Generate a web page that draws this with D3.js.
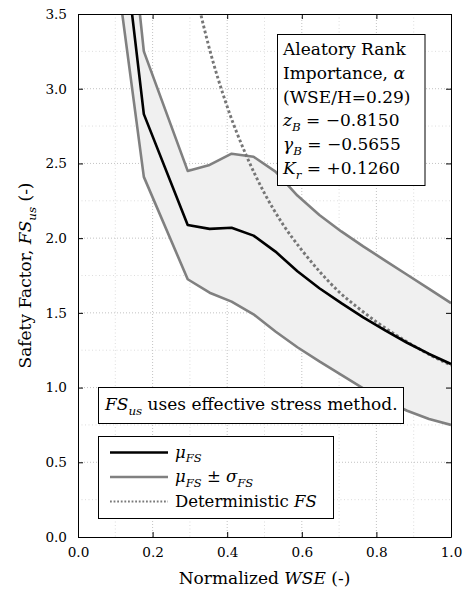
<!DOCTYPE html>
<html>
<head>
<meta charset="utf-8">
<script src="https://cdn.jsdelivr.net/npm/d3@7"></script>
<style>
  body { margin: 0; background: #fff; }
  svg { display: block; }
  text { font-family: "DejaVu Serif", "Liberation Serif", serif; white-space: pre; fill: #000; }
</style>
</head>
<body>
<svg id="chart" width="469" height="597"></svg>
<script>
// Normalized water surface elevation at which the factor of safety was evaluated
const wse = [0.1176, 0.1765, 0.2941, 0.3529, 0.4118, 0.4706, 0.5294, 0.5882,
             0.6471, 0.7059, 0.7647, 0.8235, 0.8824, 0.9412, 1.0];
// Mean factor of safety and the mean +/- one standard deviation bounds
const fsMean  = [4.08, 2.83, 2.088, 2.062, 2.07, 2.017, 1.91, 1.778,
                 1.665, 1.565, 1.47, 1.383, 1.30, 1.225, 1.158];
const fsUpper = [4.64, 3.25, 2.45, 2.49, 2.565, 2.545, 2.445, 2.285,
                 2.155, 2.045, 1.945, 1.85, 1.755, 1.66, 1.565];
const fsLower = [3.52, 2.41, 1.725, 1.635, 1.575, 1.49, 1.375, 1.27,
                 1.175, 1.085, 0.995, 0.915, 0.845, 0.79, 0.75];
// Deterministic factor of safety
const detWse = [0.30, 0.33, 0.35, 0.40, 0.45, 0.50, 0.55, 0.60, 0.65,
                0.70, 0.75, 0.80, 0.85, 0.90, 0.95, 1.0];
const detFs  = [3.83, 3.49, 3.29, 2.88, 2.56, 2.30, 2.09, 1.92, 1.77,
                1.64, 1.535, 1.44, 1.355, 1.28, 1.21, 1.15];

const xTicks = [0, 0.2, 0.4, 0.6, 0.8, 1.0];
const yTicks = [0, 0.5, 1.0, 1.5, 2.0, 2.5, 3.0, 3.5];
const xMinor = [0.1, 0.3, 0.5, 0.7, 0.9];
const yMinor = [0.25, 0.75, 1.25, 1.75, 2.25, 2.75, 3.25];

const infoLines = [
  [{t: "Aleatory Rank"}],
  [{t: "Importance, "}, {t: "α", it: 1}],
  [{t: "(WSE/H=0.29)"}],
  [{t: "z", it: 1}, {t: "B", it: 1, sub: 1}, {t: " = −0.8150"}],
  [{t: "γ", it: 1}, {t: "B", it: 1, sub: 1}, {t: " = −0.5655"}],
  [{t: "K", it: 1}, {t: "r", it: 1, sub: 1}, {t: " = +0.1260"}]
];
const noteText = [{t: "FS", it: 1}, {t: "us", it: 1, sub: 1}, {t: " uses effective stress method."}];
const legendItems = [
  {label: [{t: "μ", it: 1}, {t: "FS", it: 1, sub: 1}], color: "#000", dash: null, width: 2.6},
  {label: [{t: "μ", it: 1}, {t: "FS", it: 1, sub: 1}, {t: " ± "}, {t: "σ", it: 1}, {t: "FS", it: 1, sub: 1}],
   color: "#808080", dash: null, width: 2.6},
  {label: [{t: "Deterministic "}, {t: "FS", it: 1}], color: "#7a7a7a", dash: "1.8,1.8", width: 1.9}
];

const svg = d3.select("#chart");
const L = 78, R = 451, T = 14, B = 537;
const x = d3.scaleLinear().domain([0, 1]).range([L, R]);
const y = d3.scaleLinear().domain([0, 3.5]).range([B, T]);

// Write a run of roman / italic / subscript pieces into one text element
function mathText(g, px, py, parts, size) {
  const t = g.append("text").attr("x", px).attr("y", py).attr("font-size", size);
  let shift = 0;
  parts.forEach(p => {
    const target = p.sub ? size * 0.28 : 0;
    const ts = t.append("tspan").text(p.t)
      .attr("font-style", p.it ? "italic" : "normal")
      .attr("font-size", p.sub ? size * 0.7 : size);
    if (target !== shift) { ts.attr("dy", target - shift); shift = target; }
  });
  return t;
}

svg.append("defs").append("clipPath").attr("id", "plotClip")
  .append("rect").attr("x", L).attr("y", T).attr("width", R - L).attr("height", B - T);

// Grid lines: minor then major
const grid = svg.append("g");
grid.selectAll(".vmin").data(xMinor).join("line")
  .attr("x1", d => x(d)).attr("x2", d => x(d)).attr("y1", T).attr("y2", B)
  .attr("stroke", "#d4d4d4").attr("stroke-width", 0.8).attr("stroke-dasharray", "1,2.5");
grid.selectAll(".hmin").data(yMinor).join("line")
  .attr("y1", d => y(d)).attr("y2", d => y(d)).attr("x1", L).attr("x2", R)
  .attr("stroke", "#d4d4d4").attr("stroke-width", 0.8).attr("stroke-dasharray", "1,2.5");
grid.selectAll(".vmaj").data(xTicks.slice(1, -1)).join("line")
  .attr("x1", d => x(d)).attr("x2", d => x(d)).attr("y1", T).attr("y2", B)
  .attr("stroke", "#bcbcbc").attr("stroke-width", 0.9).attr("stroke-dasharray", "1,2");
grid.selectAll(".hmaj").data(yTicks.slice(1, -1)).join("line")
  .attr("y1", d => y(d)).attr("y2", d => y(d)).attr("x1", L).attr("x2", R)
  .attr("stroke", "#bcbcbc").attr("stroke-width", 0.9).attr("stroke-dasharray", "1,2");

// Data layer
const plot = svg.append("g").attr("clip-path", "url(#plotClip)");
const pts = wse.map((w, i) => ({w, m: fsMean[i], u: fsUpper[i], l: fsLower[i]}));

plot.append("path").datum(pts)
  .attr("d", d3.area().x(d => x(d.w)).y0(d => y(d.l)).y1(d => y(d.u)))
  .attr("fill", "#f0f0f0");

const lineOf = key => d3.line().x(d => x(d.w)).y(d => y(d[key]));
["u", "l"].forEach(k => {
  plot.append("path").datum(pts).attr("d", lineOf(k))
    .attr("fill", "none").attr("stroke", "#808080").attr("stroke-width", 2.6)
    .attr("stroke-linejoin", "round");
});

const detPts = detWse.map((w, i) => ({w, f: detFs[i]}));
plot.append("path").datum(detPts)
  .attr("d", d3.line().x(d => x(d.w)).y(d => y(d.f)).curve(d3.curveMonotoneX))
  .attr("fill", "none").attr("stroke", "#767676").attr("stroke-width", 2.9)
  .attr("stroke-dasharray", "2.8,2.4");

plot.append("path").datum(pts).attr("d", lineOf("m"))
  .attr("fill", "none").attr("stroke", "#000").attr("stroke-width", 2.6)
  .attr("stroke-linejoin", "round");

// Axes with inward ticks on all four sides
const fmt = d3.format(".1f");
const styleAxis = g => {
  g.selectAll(".domain").attr("stroke", "#000").attr("stroke-width", 1);
  g.selectAll(".tick line").attr("stroke", "#000").attr("stroke-width", 1);
  g.selectAll(".tick text").attr("font-family", "DejaVu Serif").attr("font-size", 13.6).attr("fill", "#000");
};
svg.append("g").attr("transform", `translate(0,${B})`)
  .call(d3.axisBottom(x).tickValues(xTicks).tickFormat(fmt).tickSizeInner(-5).tickSizeOuter(0).tickPadding(10))
  .call(styleAxis);
svg.append("g").attr("transform", `translate(${L},0)`)
  .call(d3.axisLeft(y).tickValues(yTicks).tickFormat(fmt).tickSizeInner(-5).tickSizeOuter(0).tickPadding(11))
  .call(styleAxis);
svg.append("g").attr("transform", `translate(0,${T})`)
  .call(d3.axisTop(x).tickValues(xTicks).tickFormat("").tickSizeInner(-5).tickSizeOuter(0))
  .call(styleAxis);
svg.append("g").attr("transform", `translate(${R},0)`)
  .call(d3.axisRight(y).tickValues(yTicks).tickFormat("").tickSizeInner(-5).tickSizeOuter(0))
  .call(styleAxis);

// Axis titles
mathText(svg, (L + R) / 2, 584, [{t: "Normalized "}, {t: "WSE", it: 1}, {t: " (-)"}], 17)
  .attr("text-anchor", "middle");
mathText(svg.append("g").attr("transform", `translate(31,${(T + B) / 2}) rotate(-90)`), 0, 0,
  [{t: "Safety Factor, "}, {t: "FS", it: 1}, {t: "us", it: 1, sub: 1}, {t: " (-)"}], 17)
  .attr("text-anchor", "middle");

// Rank importance box
const info = svg.append("g");
info.append("rect").attr("x", 277.5).attr("y", 34.5).attr("width", 147.5).attr("height", 151)
  .attr("fill", "#fff").attr("stroke", "#000").attr("stroke-width", 1);
infoLines.forEach((parts, i) => mathText(info, 283, 55 + i * 23.8, parts, 17));

// Method note
const note = svg.append("g");
note.append("rect").attr("x", 98.5).attr("y", 387.5).attr("width", 305).attr("height", 36)
  .attr("fill", "#fff").attr("stroke", "#000").attr("stroke-width", 1);
mathText(note, 105, 410, noteText, 17);

// Legend
const leg = svg.append("g");
leg.append("rect").attr("x", 98.5).attr("y", 436.5).attr("width", 235).attr("height", 82)
  .attr("fill", "#fff").attr("stroke", "#000").attr("stroke-width", 1);
legendItems.forEach((it, i) => {
  const ly = 452.5 + i * 24.5;
  leg.append("line").attr("x1", 110).attr("x2", 168).attr("y1", ly).attr("y2", ly)
    .attr("stroke", it.color).attr("stroke-width", it.width)
    .attr("stroke-dasharray", it.dash);
  mathText(leg, 175, ly + 5, it.label, 16.5);
});
</script>
</body>
</html>
